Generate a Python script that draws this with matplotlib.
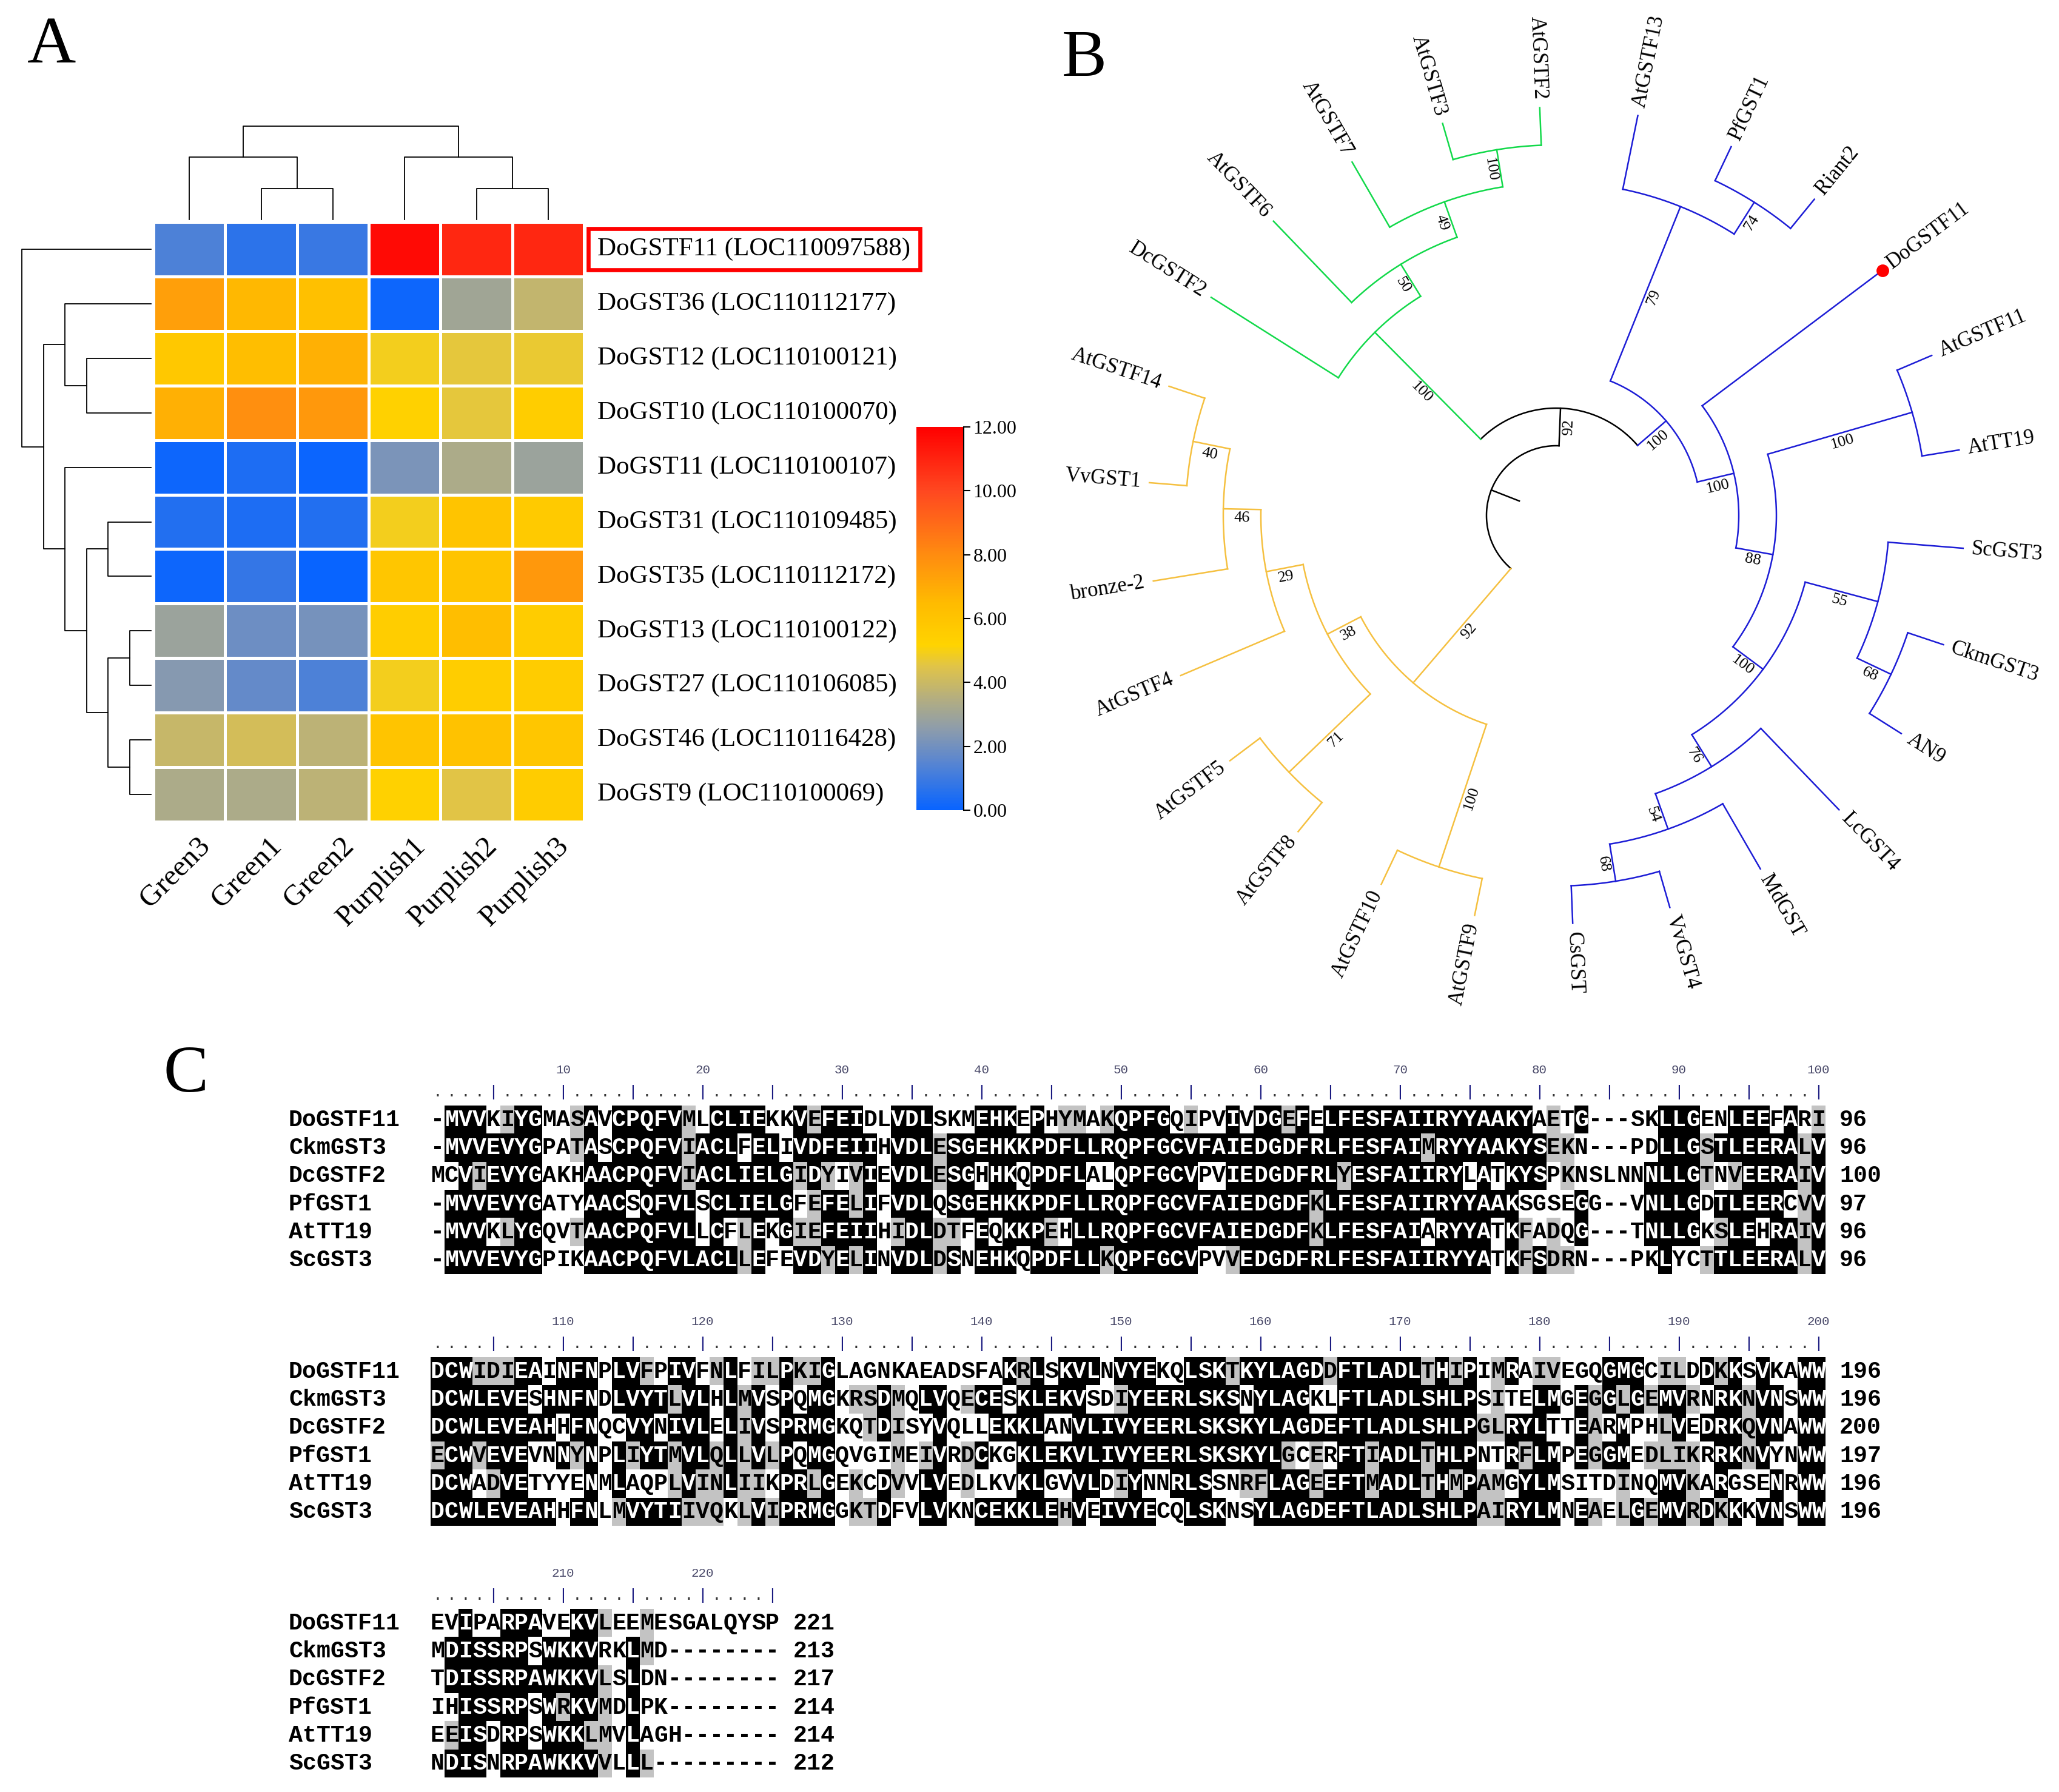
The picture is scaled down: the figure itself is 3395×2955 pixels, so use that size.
import numpy as np
import matplotlib
matplotlib.use("Agg")
import matplotlib.pyplot as plt
from matplotlib.colors import LinearSegmentedColormap, ListedColormap
from matplotlib.ticker import FormatStrFormatter

plt.rcParams['font.family'] = ['Liberation Serif', 'DejaVu Serif']
MONO = 'Liberation Mono'

# ---------------- data: panel A (expression heatmap) ----------------
genes = ['DoGSTF11 (LOC110097588)', 'DoGST36 (LOC110112177)', 'DoGST12 (LOC110100121)',
         'DoGST10 (LOC110100070)', 'DoGST11 (LOC110100107)', 'DoGST31 (LOC110109485)',
         'DoGST35 (LOC110112172)', 'DoGST13 (LOC110100122)', 'DoGST27 (LOC110106085)',
         'DoGST46 (LOC110116428)', 'DoGST9 (LOC110100069)']
samples = ['Green3', 'Green1', 'Green2', 'Purplish1', 'Purplish2', 'Purplish3']
expr = np.array([
    [1.3, 0.7, 0.9, 11.7, 10.9, 10.9],
    [7.4, 6.6, 6.2, 0.1, 3.0, 3.8],
    [5.8, 6.3, 6.8, 4.9, 4.6, 4.7],
    [6.8, 7.9, 7.6, 5.3, 4.6, 5.5],
    [0.1, 0.4, 0.05, 2.2, 3.3, 2.9],
    [0.5, 0.4, 0.5, 4.9, 6.0, 5.7],
    [0.1, 0.8, 0.0, 5.9, 6.0, 7.6],
    [2.9, 1.9, 2.1, 5.5, 6.3, 5.6],
    [2.4, 1.7, 1.3, 4.9, 5.5, 5.6],
    [3.9, 4.2, 3.7, 6.0, 6.1, 5.9],
    [3.3, 3.3, 3.7, 5.3, 4.5, 5.6],
])
cbar_ticks = [0, 2, 4, 6, 8, 10, 12]
highlight_gene = 0

# merges (a, b, height); ids >= n are earlier merges
row_links = [(2, 3, 3), (1, 11, 4), (5, 6, 2), (7, 8, 1), (9, 10, 1),
             (14, 15, 2), (13, 16, 3), (4, 17, 4), (12, 18, 5), (0, 19, 6)]
col_links = [(1, 2, 1), (0, 6, 2), (4, 5, 1), (3, 8, 2), (7, 9, 3)]

# ---------------- data: panel B (tree, clockwise leaf order) ----------------
green = (100, ['DcGSTF2', (50, ['AtGSTF6', (49, ['AtGSTF7', (100, ['AtGSTF3', 'AtGSTF2'])])])])
blue = (100, [(79, ['AtGSTF13', (74, ['PfGST1', 'Riant2'])]),
              (100, ['DoGSTF11',
                     (88, [(100, ['AtGSTF11', 'AtTT19']),
                           (100, [(55, ['ScGST3', (68, ['CkmGST3', 'AN9'])]),
                                  (76, ['LcGST4', (54, ['MdGST', (68, ['VvGST4', 'CsGST'])])])])])])])
yellow = (92, [(100, ['AtGSTF9', 'AtGSTF10']),
               (38, [(71, ['AtGSTF8', 'AtGSTF5']),
                     (29, ['AtGSTF4', (46, ['bronze-2', (40, ['VvGST1', 'AtGSTF14'])])])])])
tree = (None, [(92, [green, blue]), yellow])
marked_leaf = 'DoGSTF11'

# ---------------- data: panel C (alignment) ----------------
aln_names = ['DoGSTF11', 'CkmGST3', 'DcGSTF2', 'PfGST1', 'AtTT19', 'ScGST3']
aln_block1 = [
    '-MVVKIYGMASAVCPQFVMLCLIEKKVEFEIDLVDLSKMEHKEPHYMAKQPFGQIPVIVDGEFELFESFAIIRYYAAKYAETG---SKLLGENLEEFARI',
    '-MVVEVYGPATASCPQFVIACLFELIVDFEIIHVDLESGEHKKPDFLLRQPFGCVFAIEDGDFRLFESFAIMRYYAAKYSEKN---PDLLGSTLEERALV',
    'MCVIEVYGAKHAACPQFVIACLIELGIDYIVIEVDLESGHHKQPDFLALQPFGCVPVIEDGDFRLYESFAIIRYLATKYSPKNSLNNNLLGTNVEERAIV',
    '-MVVEVYGATYAACSQFVLSCLIELGFEFELIFVDLQSGEHKKPDFLLRQPFGCVFAIEDGDFKLFESFAIIRYYAAKSGSEGG--VNLLGDTLEERCVV',
    '-MVVKLYGQVTAACPQFVLLCFLEKGIEFEIIHIDLDTFEQKKPEHLLRQPFGCVFAIEDGDFKLFESFAIARYYATKFADQG---TNLLGKSLEHRAIV',
    '-MVVEVYGPIKAACPQFVLACLLEFEVDYELINVDLDSNEHKQPDFLLKQPFGCVPVVEDGDFRLFESFAIIRYYATKFSDRN---PKLYCTTLEERALV',
]
aln_block2 = [
    'DCWIDIEAINFNPLVFPIVFNLFILPKIGLAGNKAEADSFAKRLSKVLNVYEKQLSKTKYLAGDDFTLADLTHIPIMRAIVEGQGMGCILDDKKSVKAWW',
    'DCWLEVESHNFNDLVYTLVLHLMVSPQMGKRSDMQLVQECESKLEKVSDIYEERLSKSNYLAGKLFTLADLSHLPSITELMGEGGLGEMVRNRKNVNSWW',
    'DCWLEVEAHHFNQCVYNIVLELIVSPRMGKQTDISYVQLLEKKLANVLIVYEERLSKSKYLAGDEFTLADLSHLPGLRYLTTEARMPHLVEDRKQVNAWW',
    'ECWVEVEVNNYNPLIYTMVLQLLVLPQMGQVGIMEIVRDCKGKLEKVLIVYEERLSKSKYLGCERFTIADLTHLPNTRFLMPEGGMEDLIKRRKNVYNWW',
    'DCWADVETYYENMLAQPLVINLIIKPRLGEKCDVVLVEDLKVKLGVVLDIYNNRLSSNRFLAGEEFTMADLTHMPAMGYLMSITDINQMVKARGSENRWW',
    'DCWLEVEAHHFNLMVYTIIVQKLVIPRMGGKTDFVLVKNCEKKLEHVEIVYECQLSKNSYLAGDEFTLADLSHLPAIRYLMNEAELGEMVRDKKKVNSWW',
]
aln_block3 = [
    'EVIPARPAVEKVLEEMESGALQYSP',
    'MDISSRPSWKKVRKLMD--------',
    'TDISSRPAWKKVLSLDN--------',
    'IHISSRPSWRKVMDLPK--------',
    'EEISDRPSWKKLMVLAGH-------',
    'NDISNRPAWKKVVLLL---------',
]

# ---------------- figure ----------------
W, H = 3395, 2955
fig = plt.figure(figsize=(W / 100, H / 100), dpi=100)


def px_axes(x0, y0, x1, y1):
    return fig.add_axes([x0 / W, 1 - y1 / H, (x1 - x0) / W, (y1 - y0) / H])


def dendro_segments(n, links):
    pos = list(np.arange(n) + 0.5)
    hts = [0.0] * n
    segs = []
    for a, b, h in links:
        segs.append(([pos[a], pos[a], pos[b], pos[b]], [hts[a], h, h, hts[b]]))
        pos.append((pos[a] + pos[b]) / 2)
        hts.append(h)
    return segs


# ---- panel A
cmap = LinearSegmentedColormap.from_list('expr', [
    (0.0, '#0864ff'), (0.125, '#5a86d0'), (0.21, '#8c9cac'), (0.29, '#b4ae80'),
    (0.375, '#e0c448'), (0.43, '#ffd400'), (0.54, '#ffbb00'), (0.667, '#ff8c10'),
    (0.833, '#ff4820'), (1.0, '#ff0000')])

n_genes, n_samp = expr.shape
ax_h = px_axes(253, 366, 963, 1355)
mesh = ax_h.pcolormesh(expr, cmap=cmap, vmin=0, vmax=12, edgecolors='white', linewidth=2.5)
ax_h.set_xlim(0, n_samp)
ax_h.set_ylim(n_genes, 0)
ax_h.axis('off')
for i, g in enumerate(genes):
    box = None
    if i == highlight_gene:
        box = dict(boxstyle='square,pad=0.35', fc='none', ec='#ff0000', lw=4.8)
    ax_h.text(n_samp + 0.19, i + 0.5, g, fontsize=31, ha='left', va='center', bbox=box)
for j, s in enumerate(samples):
    ax_h.text(j + 0.6, n_genes + 0.2, s, fontsize=35, rotation=45,
              rotation_mode='anchor', ha='right', va='top')

ax_r = px_axes(36, 366, 249, 1355)
for p, hh in dendro_segments(n_genes, row_links):
    ax_r.plot(hh, p, color='black', lw=1.3, clip_on=False)
ax_r.set_xlim(max(l[2] for l in row_links), 0)
ax_r.set_ylim(n_genes, 0)
ax_r.axis('off')

ax_c = px_axes(253, 208, 963, 362)
for p, hh in dendro_segments(n_samp, col_links):
    ax_c.plot(p, hh, color='black', lw=1.3, clip_on=False)
ax_c.set_xlim(0, n_samp)
ax_c.set_ylim(0, max(l[2] for l in col_links))
ax_c.axis('off')

cax = px_axes(1511, 704, 1589, 1336)
cb = fig.colorbar(mesh, cax=cax, ticks=cbar_ticks)
cb.outline.set_visible(False)
cax.yaxis.set_major_formatter(FormatStrFormatter('%.2f'))
cax.tick_params(length=8, width=1.5, labelsize=23, pad=3)
cax.plot([1, 1], [0, 1], transform=cax.transAxes, color='black', lw=1.5, clip_on=False)

# ---- panel B
GREEN, BLUE, GOLD = '#12d94a', '#1d1dd6', '#f5c040'
clade_colors = {id(green): GREEN, id(blue): BLUE, id(yellow): GOLD}
CX, CY = 2566, 850
ax_t = px_axes(1680, 0, 3395, 1700)
ax_t.set_xlim(1680 - CX, 3395 - CX)
ax_t.set_ylim(CY - 1700, CY)
ax_t.axis('off')

leaves = []


def collect(node):
    if isinstance(node, str):
        leaves.append(node)
    else:
        for c in node[1]:
            collect(c)


collect(tree)
START_ANGLE = 147.7
angle_step = 360.0 / len(leaves)
leaf_angle = {name: START_ANGLE - k * angle_step for k, name in enumerate(leaves)}
R_TIP, R_STEP = 673, 62
TREE_LW = 1.8


def geom(node):
    if isinstance(node, str):
        return leaf_angle[node], 0
    kids = [geom(c) for c in node[1]]
    return (kids[0][0] + kids[-1][0]) / 2, 1 + max(k[1] for k in kids)


def polar(r, a):
    t = np.radians(a)
    return r * np.cos(t), r * np.sin(t)


def upright(a):
    a = (a + 180) % 360 - 180
    if -90 <= a <= 90:
        return a, 'left'
    return (a - 180 if a > 0 else a + 180), 'right'


def draw_arc(r, a0, a1, color):
    t = np.radians(np.linspace(a0, a1, 120))
    ax_t.plot(r * np.cos(t), r * np.sin(t), color=color, lw=TREE_LW)


def draw(node, r_parent, color):
    color = clade_colors.get(id(node), color)
    a, h = geom(node)
    r = R_TIP - h * R_STEP
    p0, p1 = polar(r_parent, a), polar(r, a)
    ax_t.plot([p0[0], p1[0]], [p0[1], p1[1]], color=color, lw=TREE_LW)
    if isinstance(node, str):
        rot, ha = upright(a)
        lx, ly = polar(r + 14, a)
        ax_t.text(lx, ly, node, fontsize=25, rotation=rot, rotation_mode='anchor',
                  ha=ha, va='center')
        if node == marked_leaf:
            ax_t.plot(p1[0], p1[1], 'o', color='#ff0000', ms=14)
        return
    bs, kids = node
    if bs is not None:
        rot, _ = upright(a)
        t = np.radians(rot)
        bx, by = polar((r_parent + r) / 2, a)
        ax_t.text(bx + 15 * np.sin(t), by - 15 * np.cos(t), str(bs), fontsize=19,
                  rotation=rot, rotation_mode='anchor', ha='center', va='center')
    angs = [geom(c)[0] for c in kids]
    draw_arc(r, angs[0], angs[-1], color)
    for c in kids:
        draw(c, r, color)


# the root sits in the gap between the last and the first leaf
kid_angles = [geom(c)[0] for c in tree[1]]
root_a0, root_a1 = kid_angles[0], kid_angles[-1] + 360
root_a = (root_a0 + root_a1) / 2
r_root = R_TIP - geom(tree)[1] * R_STEP
s0, s1 = polar(r_root, root_a), polar(r_root - 0.8 * R_STEP, root_a)
ax_t.plot([s0[0], s1[0]], [s0[1], s1[1]], color='black', lw=TREE_LW)
draw_arc(r_root, root_a0, root_a1, 'black')
for c in tree[1]:
    draw(c, r_root, 'black')

# ---- panel C
seqs = [a + b + c for a, b, c in zip(aln_block1, aln_block2, aln_block3)]
blocks = []
start = 0
for blk in (aln_block1, aln_block2, aln_block3):
    blocks.append((start, start + len(blk[0])))
    start += len(blk[0])

GROUPS = ['ILVM', 'FYW', 'KRH', 'DE', 'NQ', 'ST', 'AG']


def group_of(ch):
    for g in GROUPS:
        if ch in g:
            return g
    return ch


n_rows, n_cols = len(seqs), len(seqs[0])
shade = np.zeros((n_rows, n_cols), dtype=int)
for c in range(n_cols):
    col = [s[c] for s in seqs]
    res = [ch for ch in col if ch != '-']
    if not res:
        continue
    top = max(sorted(set(res)), key=res.count)
    if res.count(top) >= 3:
        for i, ch in enumerate(col):
            if ch == top:
                shade[i, c] = 2
            elif ch != '-' and group_of(ch) == group_of(top):
                shade[i, c] = 1
    else:
        gs = [group_of(ch) for ch in res]
        gtop = max(sorted(set(gs)), key=gs.count)
        if gs.count(gtop) >= 3:
            for i, ch in enumerate(col):
                if ch != '-' and group_of(ch) == gtop:
                    shade[i, c] = 1

ax_a = px_axes(0, 1690, W, H)
shade_cmap = ListedColormap(['white', '#c3c3c3', 'black'])
X0, PITCH, ROWP, NAME_X = 710, 23.0, 46.2, 476
SEQ_FS = 27.5
block_y = [1847, 2262, 2677]
counts = [0] * n_rows
for (c0, c1), y0 in zip(blocks, block_y):
    ncol = c1 - c0
    ax_a.imshow(shade[:, c0:c1], cmap=shade_cmap, vmin=0, vmax=2, interpolation='nearest',
                aspect='auto', extent=(X0, X0 + ncol * PITCH,
                                      y0 + (n_rows - 0.5) * ROWP, y0 - 0.5 * ROWP))
    for k in range(ncol):
        xc = X0 + (k + 0.5) * PITCH
        num = c0 + k + 1
        tick = '|' if num % 5 == 0 else '.'
        ax_a.text(xc, y0 - ROWP, tick, family=MONO, fontsize=19, ha='center', va='center',
                  color='#1a1a80' if tick == '|' else '#333333')
        if num % 10 == 0:
            ax_a.text(xc, y0 - 1.78 * ROWP, str(num), family=MONO, fontsize=15,
                      ha='center', va='center', color='#4a4a6a')
    for i in range(n_rows):
        yy = y0 + i * ROWP
        ax_a.text(NAME_X, yy, aln_names[i], family=MONO, fontsize=SEQ_FS, weight='bold',
                  ha='left', va='center')
        seg = seqs[i][c0:c1]
        for k, ch in enumerate(seg):
            ax_a.text(X0 + (k + 0.5) * PITCH, yy, ch, family=MONO, fontsize=SEQ_FS,
                      weight='bold', ha='center', va='center',
                      color='white' if shade[i, c0 + k] == 2 else 'black')
        counts[i] += sum(ch != '-' for ch in seg)
        ax_a.text(X0 + (ncol + 1) * PITCH, yy, str(counts[i]), family=MONO, fontsize=SEQ_FS,
                  weight='bold', ha='left', va='center')
ax_a.set_xlim(0, W)
ax_a.set_ylim(H, 1690)
ax_a.axis('off')

# ---- panel letters
for lab, (x, y) in {'A': (85, 76), 'B': (1788, 98), 'C': (306, 1773)}.items():
    fig.text(x / W, 1 - y / H, lab, fontsize=80, ha='center', va='center')

fig.savefig('out.png', dpi=100, facecolor='white')
